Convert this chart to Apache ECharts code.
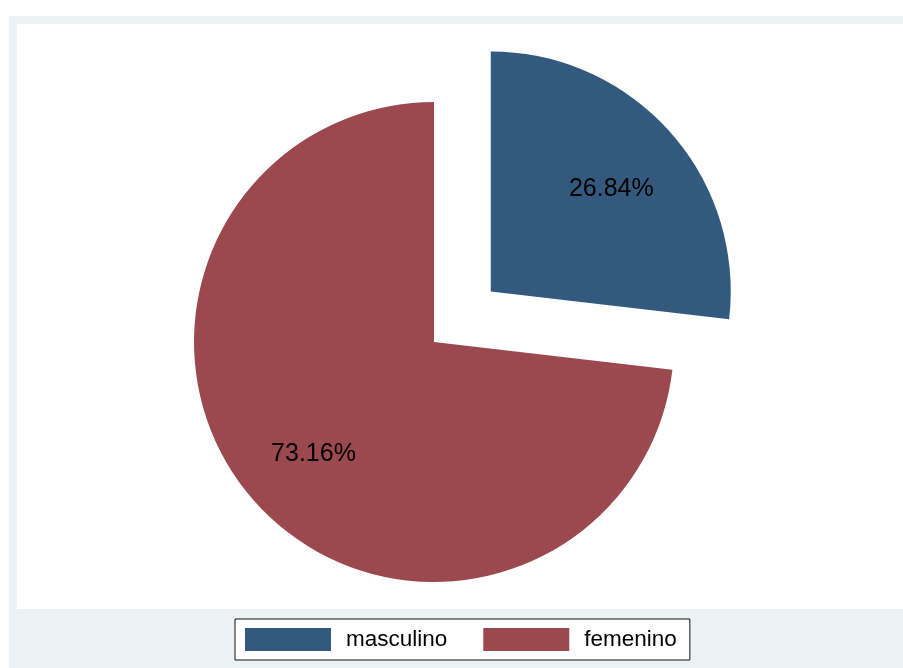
<!DOCTYPE html>
<html>
<head>
<meta charset="utf-8">
<title>masculino / femenino</title>
<script src="https://cdn.jsdelivr.net/npm/echarts@6/dist/echarts.min.js"></script>
<style>
  html, body { margin: 0; padding: 0; background: #ffffff; }
  #chart { width: 903px; height: 668px; }
</style>
</head>
<body>
<div id="chart"></div>
<script>
// Share of each sex, in percent
const categories = ['masculino', 'femenino'];
const shares = [26.84, 73.16];
const sliceColors = ['#335a7e', '#9b494e'];
const pulledOut = ['masculino'];

const FONT = '"Liberation Sans", Arial, Helvetica, sans-serif';
const CENTER = [434, 342];
const RADIUS = 240;
const PULL = 76;

const pieData = categories.map((name, i) => ({
  name: name,
  value: shares[i],
  selected: pulledOut.includes(name),
  itemStyle: { color: sliceColors[i] }
}));

// A transparent copy with a larger radius carries the percentage labels,
// so they sit about two thirds of the way out from the pie centre.
const labelData = categories.map((name, i) => ({
  name: name,
  value: shares[i],
  selected: pulledOut.includes(name)
}));

const percentLabel = {
  show: true,
  position: 'inside',
  formatter: p => p.value.toFixed(2) + '%',
  fontFamily: FONT,
  fontSize: 25,
  color: '#000000',
  offset: [0, 5],
  textBorderWidth: 0
};

const chart = echarts.init(document.getElementById('chart'), null, { renderer: 'canvas' });

chart.setOption({
  backgroundColor: '#ffffff',
  animation: false,
  textStyle: { fontFamily: FONT },
  graphic: [
    { type: 'rect', z: -10, silent: true, shape: { x: 9, y: 16, width: 900, height: 660 }, style: { fill: '#eaf2f3' } },
    { type: 'rect', z: -9, silent: true, shape: { x: 17, y: 24, width: 892, height: 585 }, style: { fill: '#ffffff' } }
  ],
  legend: {
    data: categories,
    left: 235,
    top: 619,
    orient: 'horizontal',
    padding: [9, 13, 9, 10],
    itemGap: 36,
    itemWidth: 86,
    itemHeight: 23,
    icon: 'rect',
    selectedMode: false,
    backgroundColor: '#ffffff',
    borderColor: '#111111',
    borderWidth: 1,
    borderRadius: 0,
    itemStyle: { borderWidth: 0 },
    textStyle: {
      fontFamily: FONT,
      fontSize: 22.5,
      color: '#000000',
      padding: [0, 0, 0, 10]
    }
  },
  series: [
    {
      name: 'sexo',
      type: 'pie',
      center: CENTER,
      radius: RADIUS,
      startAngle: 90,
      clockwise: true,
      selectedMode: 'single',
      selectedOffset: PULL,
      avoidLabelOverlap: false,
      label: { show: false },
      labelLine: { show: false },
      emphasis: { disabled: true },
      silent: true,
      z: 2,
      data: pieData
    },
    {
      name: 'porcentaje',
      type: 'pie',
      center: CENTER,
      radius: RADIUS * 1.32,
      startAngle: 90,
      clockwise: true,
      selectedMode: 'single',
      selectedOffset: PULL,
      avoidLabelOverlap: false,
      silent: true,
      z: 3,
      itemStyle: { color: 'rgba(0,0,0,0)', borderWidth: 0 },
      emphasis: { disabled: true },
      select: { label: { offset: [0, 5] } },
      labelLine: { show: false },
      label: percentLabel,
      data: labelData
    }
  ]
});
</script>
</body>
</html>
